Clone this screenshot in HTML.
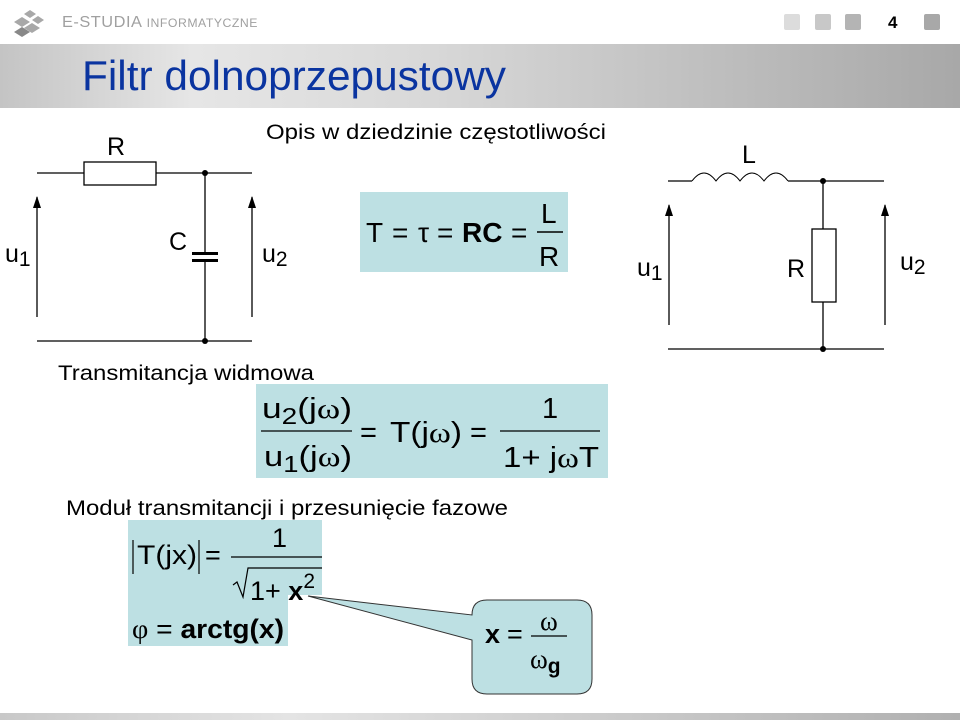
<!DOCTYPE html>
<html><head><meta charset="utf-8"><style>
html,body{margin:0;padding:0;background:#fff;}
svg{display:block;font-family:"Liberation Sans",sans-serif;}
</style></head><body>
<svg width="960" height="720" viewBox="0 0 960 720" xmlns="http://www.w3.org/2000/svg">
<defs>
<linearGradient id="band" x1="0" x2="1" y1="0" y2="0">
<stop offset="0" stop-color="#c4c4c4"/><stop offset="0.2" stop-color="#e6e6e6"/><stop offset="0.45" stop-color="#d8d8d8"/><stop offset="1" stop-color="#a8a8a8"/>
</linearGradient>
<linearGradient id="bot" x1="0" x2="1"><stop offset="0" stop-color="#c8c8c8"/><stop offset="0.3" stop-color="#e4e4e4"/><stop offset="1" stop-color="#b0b0b0"/></linearGradient>
<marker id="ar" markerWidth="12" markerHeight="8" refX="11" refY="4" orient="auto" markerUnits="userSpaceOnUse" viewBox="0 0 12 8"><path d="M0,0 L12,4 L0,8 Z" fill="#000"/></marker>
</defs>
<!-- header -->
<g fill="#a8a8a8">
<path d="M14,22 l8,-5 8,5 -8,5z"/><path d="M24,28 l8,-5 8,5 -8,5z"/><path d="M14,32 l8,-5 8,5 -8,5z" fill="#888"/><path d="M24,14 l6,-4 6,4 -6,4z"/><path d="M32,20 l6,-4 6,4 -6,4z"/>
</g>
<text x="62" y="27" font-size="16" fill="#a0a0a0" letter-spacing="0.5" textLength="196" lengthAdjust="spacingAndGlyphs">E-STUDIA <tspan font-size="12">INFORMATYCZNE</tspan></text>
<rect x="784" y="14" width="16" height="16" rx="2" fill="#dcdcdc"/>
<rect x="815" y="14" width="16" height="16" rx="2" fill="#c8c8c8"/>
<rect x="845" y="14" width="16" height="16" rx="2" fill="#b4b4b4"/>
<text x="888" y="28" font-size="17" font-weight="bold" fill="#000">4</text>
<rect x="924" y="14" width="16" height="16" rx="2" fill="#a8a8a8"/>
<rect x="0" y="44" width="960" height="64" fill="url(#band)"/>
<text x="82" y="90" font-size="42" fill="#0a34a0" textLength="424" lengthAdjust="spacingAndGlyphs">Filtr dolnoprzepustowy</text>
<rect x="0" y="713" width="960" height="7" fill="url(#bot)"/>

<g font-size="21" fill="#000">
<text x="266" y="139" textLength="340" lengthAdjust="spacingAndGlyphs">Opis w dziedzinie częstotliwości</text>
<text x="58" y="380" textLength="256" lengthAdjust="spacingAndGlyphs">Transmitancja widmowa</text>
<text x="66" y="515" textLength="442" lengthAdjust="spacingAndGlyphs">Moduł transmitancji i przesunięcie fazowe</text>
</g>

<!-- circuit 1 -->
<g stroke="#000" stroke-width="1.3" fill="none">
<line x1="37" y1="173" x2="84" y2="173"/><rect x="84" y="162" width="72" height="23"/><line x1="156" y1="173" x2="252" y2="173"/>
<line x1="205" y1="173" x2="205" y2="253"/><line x1="205" y1="261" x2="205" y2="341"/>
<line x1="37" y1="341" x2="252" y2="341"/>
<line x1="37" y1="317" x2="37" y2="197" marker-end="url(#ar)"/>
<line x1="252" y1="317" x2="252" y2="197" marker-end="url(#ar)"/>
</g>
<rect x="192" y="252" width="26" height="3" fill="#000"/><rect x="192" y="259" width="26" height="3" fill="#000"/>
<circle cx="205" cy="173" r="3" fill="#000"/><circle cx="205" cy="341" r="3" fill="#000"/>
<g font-size="25" fill="#000">
<text x="107" y="155">R</text><text x="169" y="250">C</text>
<text x="5" y="262">u<tspan font-size="21" dy="4">1</tspan></text>
<text x="262" y="262">u<tspan font-size="21" dy="4">2</tspan></text>
</g>

<!-- circuit 2 -->
<g stroke="#000" stroke-width="1.3" fill="none">
<line x1="668" y1="181" x2="692" y2="181"/>
<path d="M692,181 q12,-16 24,0 q12,-16 24,0 q12,-16 24,0 q12,-16 24,0" stroke-width="1"/>
<line x1="788" y1="181" x2="884" y2="181"/>
<line x1="823" y1="181" x2="823" y2="229"/><rect x="812" y="229" width="24" height="73"/><line x1="823" y1="302" x2="823" y2="349"/>
<line x1="668" y1="349" x2="884" y2="349"/>
<line x1="669" y1="325" x2="669" y2="205" marker-end="url(#ar)"/>
<line x1="885" y1="325" x2="885" y2="205" marker-end="url(#ar)"/>
</g>
<circle cx="823" cy="181" r="3" fill="#000"/><circle cx="823" cy="349" r="3" fill="#000"/>
<g font-size="25" fill="#000">
<text x="742" y="163">L</text><text x="787" y="277">R</text>
<text x="637" y="276">u<tspan font-size="21" dy="4">1</tspan></text>
<text x="900" y="270">u<tspan font-size="21" dy="4">2</tspan></text>
</g>

<!-- formula 1 -->
<rect x="360" y="192" width="208" height="80" fill="#bde0e3"/>
<g font-size="28" fill="#000">
<text x="366" y="242">T</text><text x="392" y="242">=</text><text x="418" y="242">τ</text><text x="437" y="242">=</text>
<text x="462" y="242" font-weight="bold">RC</text><text x="511" y="242">=</text>
<text x="541" y="223">L</text><text x="539" y="266">R</text>
</g>
<line x1="537" y1="232" x2="563" y2="232" stroke="#000" stroke-width="1.5"/>

<!-- formula 2 -->
<rect x="256" y="384" width="352" height="94" fill="#bde0e3"/>
<g font-size="29" fill="#000">
<text x="262" y="418" textLength="90" lengthAdjust="spacingAndGlyphs">u<tspan font-size="23" dy="6">2</tspan><tspan dy="-6">(j</tspan><tspan font-family="Liberation Serif">ω</tspan>)</text>
<text x="264" y="466" textLength="88" lengthAdjust="spacingAndGlyphs">u<tspan font-size="23" dy="6">1</tspan><tspan dy="-6">(j</tspan><tspan font-family="Liberation Serif">ω</tspan>)</text>
<text x="360" y="442">=</text>
<text x="390" y="442" textLength="72" lengthAdjust="spacingAndGlyphs">T(j<tspan font-family="Liberation Serif">ω</tspan>)</text>
<text x="470" y="442">=</text>
<text x="542" y="418">1</text>
<text x="503" y="467" textLength="96" lengthAdjust="spacingAndGlyphs">1+ j<tspan font-family="Liberation Serif">ω</tspan>T</text>
</g>
<line x1="261" y1="431" x2="352" y2="431" stroke="#000" stroke-width="1.3"/>
<line x1="500" y1="431" x2="600" y2="431" stroke="#000" stroke-width="1.3"/>

<!-- formula 3 -->
<path d="M128,520 H322 V595 H288 V646 H128 Z" fill="#bde0e3"/>
<g font-size="27" fill="#000">
<line x1="133" y1="540" x2="133" y2="574" stroke="#000" stroke-width="1.2"/>
<text x="137" y="564" textLength="60" lengthAdjust="spacingAndGlyphs">T(jx)</text>
<line x1="199" y1="540" x2="199" y2="574" stroke="#000" stroke-width="1.2"/>
<text x="205" y="564">=</text>
<text x="272" y="547">1</text>
<text x="250" y="600">1+ <tspan font-weight="bold">x</tspan><tspan font-size="21" dy="-12">2</tspan></text>
<text x="132" y="638" textLength="152" lengthAdjust="spacingAndGlyphs"><tspan font-family="Liberation Serif">φ</tspan> = <tspan font-weight="bold">arctg(x)</tspan></text>
</g>
<line x1="231" y1="557" x2="322" y2="557" stroke="#000" stroke-width="1.3"/>
<path d="M233,585 l4,-3 6,15 5,-29 H322" fill="none" stroke="#000" stroke-width="1.2"/>

<!-- callout -->
<path d="M487,600 H577 Q592,600 592,615 V679 Q592,694 577,694 H487 Q472,694 472,679 V640 L308,596 L472,615 Q472,600 487,600 Z" fill="#bde0e3" stroke="#333" stroke-width="1"/>
<g font-size="27" fill="#000">
<text x="485" y="643" font-weight="bold">x</text><text x="507" y="643">=</text>
<text x="540" y="630" font-family="Liberation Serif">ω</text>
<text x="530" y="668" font-family="Liberation Serif">ω<tspan font-family="Liberation Sans" font-weight="bold" font-size="21" dy="5">g</tspan></text>
</g>
<line x1="531" y1="636" x2="567" y2="636" stroke="#000" stroke-width="1.3"/>
</svg>
</body></html>
